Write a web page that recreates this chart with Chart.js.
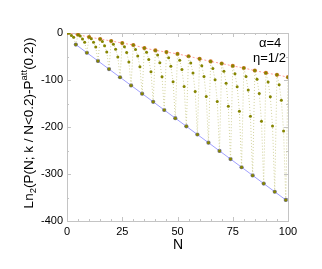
<!DOCTYPE html>
<html>
<head>
<meta charset="utf-8">
<script src="https://cdn.jsdelivr.net/npm/chart.js@4/dist/chart.umd.min.js"></script>
<style>
  html, body { margin: 0; padding: 0; background: #fff; }
  #wrap { width: 322px; height: 269px; }
</style>
</head>
<body>
<div id="wrap"><canvas id="chart" width="322" height="269"></canvas></div>
<script>
// N for every point, 0..100
const nAll = [0,1,2,3,4,5,6,7,8,9,10,11,12,13,14,15,16,17,18,19,20,21,22,23,24,25,26,27,28,29,30,
  31,32,33,34,35,36,37,38,39,40,41,42,43,44,45,46,47,48,49,50,51,52,53,54,55,56,57,58,59,60,
  61,62,63,64,65,66,67,68,69,70,71,72,73,74,75,76,77,78,79,80,81,82,83,84,85,86,87,88,89,90,
  91,92,93,94,95,96,97,98,99,100];
// olive sawtooth, one value per N
const allVals = [0,-0.7,-5.4,-9,-24.6, -3.6,-6.4,-12.7,-19.5,-42, -8.5,-12.2,-19.9,-30,-59.4,
  -12.8,-17.9,-27.2,-40.5,-76.8, -17,-23.7,-34.4,-51,-94.2, -21.5,-29.4,-41.7,-61.5,-111.6,
  -25.5,-35.2,-48.9,-72,-129, -32,-40.9,-56.2,-82.5,-146.4, -37,-46.7,-63.4,-93,-163.8,
  -40.5,-52.4,-70.7,-103.5,-181.2, -44.5,-58.2,-77.9,-114,-198.6, -49.5,-63.9,-85.2,-124.5,-216,
  -55,-69.7,-92.4,-135,-233.4, -60.5,-75.4,-99.7,-145.5,-250.8, -65,-81.2,-106.9,-156,-268.2,
  -70,-86.9,-114.2,-166.5,-285.6, -74.5,-92.7,-121.4,-177,-303, -80,-98.4,-128.7,-187.5,-320.4,
  -85,-104.2,-135.9,-198,-337.8, -89,-109.9,-143.2,-208.5,-355.2, -94];
// upper envelope (orange points, red dotted line)
const nTop = [0,5,10,15,20,25,30,35,40,45,50,55,60,65,70,75,80,85,90,95,100];
const topVals = [0,-3.6,-8.5,-12.8,-17,-21.5,-25.5,-32,-37,-40.5,-44.5,-49.5,-55,-60.5,-65,-70,-74.5,-80,-85,-89,-94];
// lower envelope (blue points, blue line)
const nLow = [4,9,14,19,24,29,34,39,44,49,54,59,64,69,74,79,84,89,94,99];
const lowVals = [-24.6,-42,-59.4,-76.8,-94.2,-111.6,-129,-146.4,-163.8,-181.2,-198.6,-216,-233.4,-250.8,-268.2,-285.6,-303,-320.4,-337.8,-355.2];

const xTicks = [0, 25, 50, 75, 100];
const yTicks = [-400, -300, -200, -100, 0];

const FONT = "'Liberation Sans', Arial, sans-serif";
const pts = (xs, ys) => xs.map((x, i) => ({ x: x, y: ys[i] }));

// frame with inward ticks on all four sides
const framePlugin = {
  id: 'frame',
  beforeDatasetsDraw(chart) {
    const { ctx, chartArea: a, scales: { x, y } } = chart;
    ctx.save();
    ctx.strokeStyle = '#c4c4c4';
    ctx.lineWidth = 1;
    ctx.strokeRect(a.left + 0.5, a.top + 0.5, a.right - a.left, a.bottom - a.top);
    ctx.beginPath();
    for (let v = 0; v <= 100; v += 5) {
      const px = Math.round(x.getPixelForValue(v)) + 0.5;
      const len = v % 25 === 0 ? 4 : 2;
      ctx.moveTo(px, a.bottom); ctx.lineTo(px, a.bottom - len);
      ctx.moveTo(px, a.top); ctx.lineTo(px, a.top + len);
    }
    for (let v = -400; v <= 0; v += 50) {
      const py = Math.round(y.getPixelForValue(v)) + 0.5;
      const len = v % 100 === 0 ? 4 : 2;
      ctx.moveTo(a.left, py); ctx.lineTo(a.left + len, py);
      ctx.moveTo(a.right, py); ctx.lineTo(a.right - len, py);
    }
    ctx.stroke();
    ctx.restore();
  },
  afterDraw(chart) {
    const ctx = chart.ctx;
    ctx.save();
    ctx.fillStyle = '#000';
    ctx.textBaseline = 'alphabetic';
    // x title
    ctx.font = '14px ' + FONT;
    ctx.textAlign = 'center';
    ctx.fillText('N', 178, 249);
    // notes
    ctx.textAlign = 'left';
    ctx.font = '13px ' + FONT;
    ctx.fillText('\u03B1=4', 259, 47);
    ctx.fillText('\u03B7=1/2', 253, 62);
    // y title with sub/superscript
    const parts = [
      ['Ln', 13.5, 0], ['2', 9.5, 3], ['(P(N; k / N<0.2)-P', 13.5, 0], ['att', 9.5, -6], ['(0.2))', 13.5, 0]
    ];
    ctx.translate(33, 123);
    ctx.rotate(-Math.PI / 2);
    let total = 0;
    parts.forEach(p => { ctx.font = p[1] + 'px ' + FONT; total += ctx.measureText(p[0]).width; });
    let cx = -total / 2;
    parts.forEach(p => {
      ctx.font = p[1] + 'px ' + FONT;
      ctx.fillText(p[0], cx, p[2]);
      cx += ctx.measureText(p[0]).width;
    });
    ctx.restore();
  }
};

new Chart(document.getElementById('chart'), {
  type: 'scatter',
  data: {
    datasets: [
      {
        label: 'all N',
        data: pts(nAll, allVals),
        showLine: true,
        borderColor: '#d2d29c',
        borderWidth: 1,
        borderDash: [1, 2],
        pointRadius: 1.5,
        pointBackgroundColor: '#858500',
        pointBorderWidth: 0
      },
      {
        label: 'upper',
        data: pts(nTop, topVals),
        showLine: true,
        borderColor: '#ff9c9c',
        borderWidth: 1,
        borderDash: [2, 2],
        pointRadius: 2.1,
        pointBackgroundColor: '#d0782a',
        pointBorderWidth: 0
      },
      {
        label: 'lower',
        data: pts(nLow, lowVals),
        showLine: true,
        borderColor: '#a0a0ff',
        borderWidth: 1,
        pointRadius: 2.1,
        pointBackgroundColor: '#74749c',
        pointBorderWidth: 0
      }
    ]
  },
  options: {
    responsive: false,
    animation: false,
    layout: { padding: { left: 0, right: 34, top: 33, bottom: 0 } },
    plugins: { legend: { display: false }, tooltip: { enabled: false } },
    scales: {
      x: {
        type: 'linear',
        min: 0,
        max: 100,
        afterFit: s => { s.height = 48; },
        afterBuildTicks: s => { s.ticks = xTicks.map(v => ({ value: v })); },
        grid: { display: false, drawTicks: false },
        border: { display: false },
        ticks: { color: '#000', font: { size: 11, family: FONT }, padding: 4, maxRotation: 0 }
      },
      y: {
        type: 'linear',
        min: -400,
        max: 0,
        afterFit: s => { s.width = 67; },
        afterBuildTicks: s => { s.ticks = yTicks.map(v => ({ value: v })); },
        grid: { display: false, drawTicks: false },
        border: { display: false },
        ticks: { color: '#000', font: { size: 11, family: FONT }, padding: 4 }
      }
    }
  },
  plugins: [framePlugin]
});
</script>
</body>
</html>
